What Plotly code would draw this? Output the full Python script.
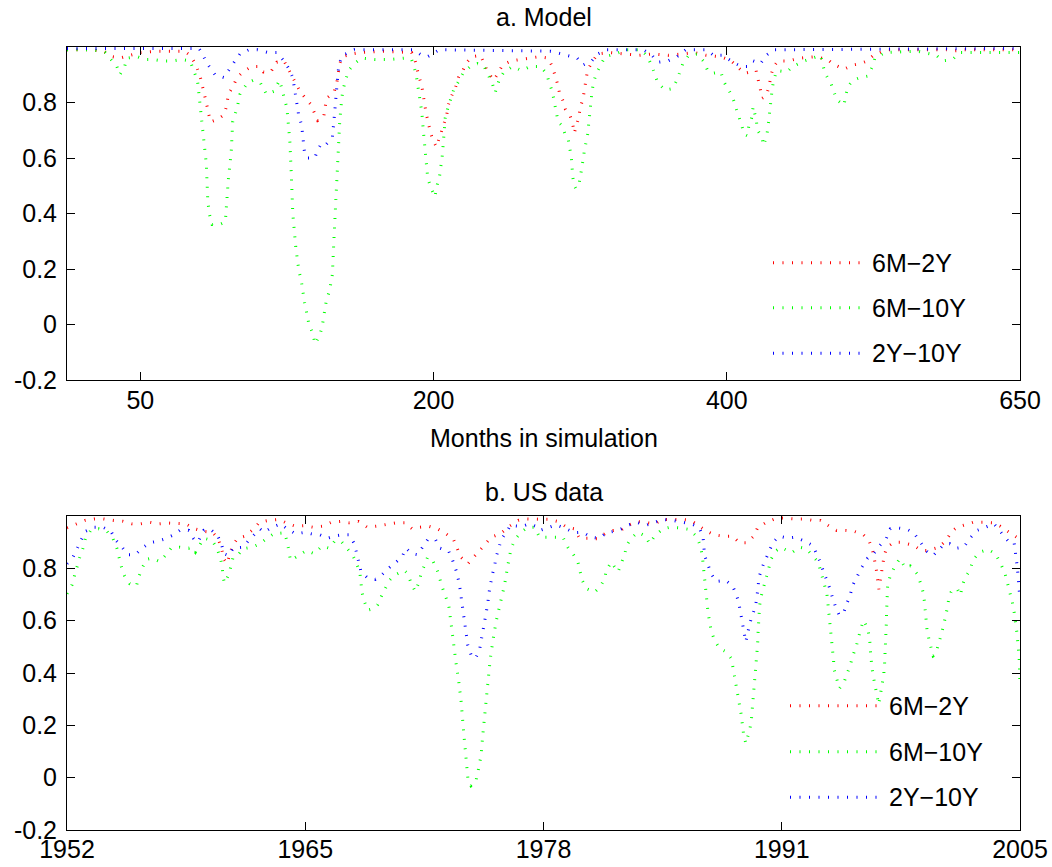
import plotly.graph_objects as go

# ---------------- panel a: model, correlations by month of simulation ----------------
model_red = [
    (0, 0.99), (16, 0.99), (25, 0.985), (31, 0.965), (36, 0.96), (43, 0.97), (50, 0.98),
    (63, 0.985), (80, 0.985), (84, 0.97), (88, 0.935), (91, 0.89), (93, 0.85), (95, 0.80),
    (97, 0.75), (98, 0.73), (103, 0.74), (107, 0.755), (109, 0.79), (110, 0.83), (113, 0.855),
    (116, 0.89), (120, 0.91), (126, 0.93), (131, 0.93), (134, 0.91), (139, 0.91), (143, 0.945),
    (148, 0.95), (152, 0.91), (156, 0.87), (159, 0.84), (162, 0.82), (166, 0.795), (169, 0.76),
    (171, 0.735), (175, 0.745), (176, 0.78), (177, 0.815), (182, 0.835), (184, 0.87),
    (185, 0.905), (186, 0.94), (188, 0.965), (194, 0.975), (200, 0.98), (215, 0.985),
    (235, 0.98), (237, 0.96), (240, 0.895), (242, 0.86), (243, 0.825), (245, 0.76), (248, 0.69),
    (250, 0.66), (252, 0.64), (254, 0.675), (257, 0.72), (259, 0.755), (260, 0.79), (262, 0.82),
    (265, 0.855), (267, 0.89), (270, 0.915), (272, 0.94), (276, 0.965), (282, 0.97), (287, 0.91),
    (291, 0.88), (294, 0.905), (297, 0.935), (303, 0.95), (310, 0.955), (322, 0.965), (328, 0.96),
    (331, 0.93), (333, 0.895), (335, 0.86), (336, 0.83), (338, 0.81), (340, 0.775), (343, 0.755),
    (345, 0.72), (346, 0.69), (349, 0.745), (350, 0.78), (352, 0.815), (353, 0.85), (354, 0.88),
    (355, 0.915), (358, 0.945), (362, 0.975), (370, 0.98), (380, 0.975), (390, 0.97),
    (400, 0.975), (410, 0.97), (420, 0.975), (428, 0.98), (436, 0.97), (446, 0.965), (453, 0.95),
    (457, 0.93), (462, 0.905), (470, 0.915), (472, 0.875), (473, 0.845), (474, 0.815),
    (477, 0.825), (479, 0.86), (480, 0.895), (482, 0.93), (485, 0.95), (492, 0.95), (500, 0.96),
    (510, 0.965), (519, 0.955), (522, 0.94), (530, 0.92), (536, 0.935), (541, 0.94), (546, 0.95),
    (551, 0.975), (560, 0.99), (600, 0.99), (604, 0.985), (612, 0.99), (650, 0.99),
]

model_green = [
    (0, 0.99), (18, 0.99), (26, 0.98), (29, 0.96), (34, 0.93), (36, 0.90), (39, 0.925), (41, 0.96),
    (48, 0.965), (53, 0.955), (59, 0.955), (65, 0.95), (72, 0.95), (78, 0.955), (84, 0.95),
    (86, 0.92), (89, 0.88), (91, 0.78), (93, 0.675), (95, 0.58), (96, 0.45), (97, 0.40),
    (99, 0.36), (104, 0.36), (108, 0.37), (109, 0.45), (110, 0.52), (112, 0.62), (113, 0.73),
    (116, 0.78), (118, 0.83), (123, 0.87), (127, 0.88), (132, 0.87), (136, 0.83), (141, 0.84),
    (145, 0.88), (150, 0.78), (152, 0.66), (153, 0.54), (154, 0.40), (156, 0.28), (158, 0.20),
    (160, 0.15), (162, 0.08), (164, 0.03), (165, 0.0), (168, -0.035), (169, -0.07), (172, -0.045),
    (174, -0.01), (175, 0.025), (177, 0.09), (179, 0.12), (181, 0.18), (182, 0.30), (183, 0.42),
    (184, 0.55), (185, 0.66), (186, 0.73), (187, 0.79), (188, 0.84), (190, 0.88), (192, 0.915),
    (196, 0.94), (201, 0.96), (210, 0.955), (220, 0.955), (230, 0.96), (235, 0.955), (236, 0.94),
    (238, 0.905), (239, 0.87), (240, 0.84), (241, 0.80), (242, 0.765), (243, 0.70), (244, 0.635),
    (245, 0.58), (246, 0.53), (248, 0.495), (251, 0.46), (252, 0.495), (254, 0.53), (256, 0.61),
    (257, 0.68), (258, 0.745), (260, 0.785), (262, 0.82), (264, 0.85), (267, 0.875), (270, 0.905),
    (275, 0.93), (280, 0.94), (284, 0.935), (287, 0.90), (290, 0.87), (292, 0.835), (295, 0.885),
    (298, 0.91), (304, 0.93), (310, 0.915), (316, 0.93), (323, 0.93), (327, 0.905), (329, 0.87),
    (331, 0.84), (333, 0.785), (335, 0.73), (338, 0.715), (340, 0.68), (342, 0.665), (344, 0.60),
    (345, 0.53), (346, 0.50), (347, 0.49), (349, 0.50), (351, 0.56), (352, 0.60), (353, 0.63),
    (355, 0.68), (356, 0.735), (357, 0.78), (358, 0.835), (359, 0.87), (361, 0.905), (364, 0.935),
    (367, 0.965), (374, 0.975), (381, 0.99), (392, 0.99), (396, 0.965), (399, 0.93), (401, 0.90),
    (403, 0.87), (408, 0.845), (413, 0.85), (416, 0.88), (418, 0.91), (420, 0.94), (424, 0.97),
    (430, 0.975), (434, 0.95), (437, 0.915), (440, 0.905), (446, 0.91), (448, 0.875), (451, 0.85),
    (454, 0.82), (456, 0.785), (458, 0.755), (460, 0.72), (462, 0.685), (464, 0.68), (465, 0.715),
    (467, 0.745), (468, 0.785), (470, 0.74), (471, 0.70), (474, 0.675), (475, 0.645), (477, 0.675),
    (478, 0.705), (479, 0.76), (480, 0.81), (481, 0.85), (482, 0.88), (484, 0.915), (491, 0.91),
    (495, 0.93), (503, 0.95), (514, 0.97), (517, 0.905), (521, 0.87), (523, 0.84), (525, 0.81),
    (530, 0.79), (531, 0.825), (533, 0.86), (536, 0.88), (541, 0.89), (546, 0.895), (549, 0.925),
    (551, 0.96), (558, 0.98), (580, 0.985), (593, 0.97), (597, 0.95), (604, 0.955), (609, 0.98),
    (650, 0.98),
]

model_blue = [
    (0, 0.995), (90, 0.995), (92, 0.98), (95, 0.945), (101, 0.90), (107, 0.89), (114, 0.945),
    (118, 0.975), (124, 0.99), (130, 0.99), (137, 0.98), (143, 0.98), (148, 0.95), (151, 0.925),
    (154, 0.89), (155, 0.855), (156, 0.82), (157, 0.785), (158, 0.755), (160, 0.72), (161, 0.67),
    (162, 0.62), (164, 0.60), (169, 0.60), (171, 0.63), (174, 0.655), (177, 0.65), (181, 0.675),
    (182, 0.73), (183, 0.80), (184, 0.86), (185, 0.915), (186, 0.945), (188, 0.97), (196, 0.99),
    (236, 0.99), (242, 0.97), (246, 0.965), (254, 0.99), (330, 0.985), (348, 0.96), (352, 0.935),
    (358, 0.95), (362, 0.975), (368, 0.99), (393, 0.99), (399, 0.97), (403, 0.945), (410, 0.95),
    (416, 0.965), (422, 0.99), (436, 0.99), (441, 0.97), (447, 0.97), (456, 0.94), (460, 0.93),
    (464, 0.93), (468, 0.95), (473, 0.94), (477, 0.97), (482, 0.99), (650, 0.995),
]

# ---------------- panel b: US data, correlations by year ----------------
us_red = [
    (1952.0, 0.955), (1952.5, 0.97), (1953.0, 0.983), (1953.5, 0.989), (1954.0, 0.989),
    (1954.6, 0.983), (1955.1, 0.98), (1955.6, 0.97), (1956.1, 0.97), (1956.6, 0.976),
    (1957.1, 0.97), (1957.6, 0.973), (1958.2, 0.97), (1958.6, 0.97), (1959.1, 0.951),
    (1959.6, 0.941), (1960.1, 0.938), (1960.4, 0.913), (1960.6, 0.875), (1960.7, 0.837),
    (1960.9, 0.818), (1961.2, 0.887), (1961.5, 0.915), (1961.9, 0.923), (1962.4, 0.951),
    (1962.7, 0.976), (1963.2, 0.983), (1963.8, 0.987), (1964.3, 0.97), (1964.7, 0.961),
    (1965.2, 0.963), (1965.7, 0.957), (1966.2, 0.961), (1966.7, 0.976), (1967.2, 0.979),
    (1967.7, 0.974), (1968.2, 0.979), (1968.7, 0.957), (1969.2, 0.961), (1969.7, 0.966),
    (1970.3, 0.974), (1970.8, 0.974), (1971.2, 0.951), (1971.6, 0.957), (1972.1, 0.961),
    (1972.6, 0.951), (1973.0, 0.936), (1973.5, 0.910), (1973.9, 0.843), (1974.3, 0.818),
    (1974.6, 0.843), (1975.0, 0.872), (1975.6, 0.919), (1976.1, 0.932), (1976.6, 0.961),
    (1977.1, 0.983), (1977.6, 0.989), (1978.1, 0.987), (1978.8, 0.987), (1979.3, 0.979),
    (1979.8, 0.957), (1980.2, 0.951), (1980.5, 0.915), (1981.0, 0.915), (1981.5, 0.913),
    (1982.0, 0.936), (1982.4, 0.945), (1982.8, 0.945), (1983.2, 0.964), (1983.7, 0.979),
    (1984.2, 0.974), (1984.7, 0.970), (1985.1, 0.987), (1985.7, 0.987), (1986.2, 0.987),
    (1986.7, 0.983), (1987.2, 0.961), (1987.6, 0.941), (1988.0, 0.928), (1988.5, 0.923),
    (1989.0, 0.923), (1989.4, 0.898), (1989.8, 0.898), (1990.2, 0.923), (1990.4, 0.954),
    (1990.9, 0.976), (1991.3, 0.987), (1991.8, 0.992), (1992.4, 0.989), (1993.0, 0.989),
    (1993.5, 0.983), (1993.9, 0.983), (1994.4, 0.961), (1994.8, 0.945), (1995.3, 0.945),
    (1995.8, 0.941), (1996.3, 0.928), (1996.6, 0.907), (1996.8, 0.87), (1997.0, 0.80),
    (1997.15, 0.72), (1997.3, 0.78), (1997.45, 0.85), (1997.6, 0.881), (1998.0, 0.900),
    (1998.4, 0.900), (1998.7, 0.894), (1999.1, 0.887), (1999.5, 0.868), (1999.8, 0.868),
    (2000.2, 0.875), (2000.5, 0.881), (2000.9, 0.907), (2001.2, 0.941), (2001.5, 0.957),
    (2002.0, 0.966), (2002.4, 0.976), (2003.0, 0.976), (2003.5, 0.974), (2003.9, 0.961),
    (2004.3, 0.941), (2004.8, 0.919), (2005.0, 0.91),
]

us_green = [
    (1952.0, 0.703), (1952.28, 0.737), (1952.41, 0.770), (1952.56, 0.807), (1952.71, 0.842),
    (1952.89, 0.877), (1953.02, 0.913), (1953.34, 0.947), (1953.76, 0.951), (1954.23, 0.941),
    (1954.56, 0.913), (1954.78, 0.875), (1954.88, 0.843), (1955.02, 0.807), (1955.19, 0.773),
    (1955.49, 0.741), (1955.86, 0.732), (1955.99, 0.767), (1956.18, 0.801), (1956.42, 0.834),
    (1956.73, 0.839), (1957.16, 0.826), (1957.47, 0.849), (1957.79, 0.877), (1958.27, 0.881),
    (1958.77, 0.877), (1958.96, 0.881), (1959.14, 0.862), (1959.39, 0.89), (1959.61, 0.915),
    (1960.07, 0.907), (1960.35, 0.875), (1960.54, 0.837), (1960.63, 0.805), (1960.68, 0.767),
    (1960.76, 0.744), (1961.0, 0.776), (1961.24, 0.843), (1961.56, 0.856), (1961.8, 0.875),
    (1962.3, 0.881), (1962.73, 0.894), (1963.13, 0.915), (1963.5, 0.932), (1964.1, 0.936),
    (1964.25, 0.90), (1964.43, 0.83), (1964.9, 0.849), (1965.32, 0.868), (1965.75, 0.856),
    (1966.18, 0.885), (1966.59, 0.877), (1966.92, 0.907), (1967.29, 0.900), (1967.61, 0.872),
    (1967.9, 0.849), (1968.11, 0.818), (1968.29, 0.783), (1968.35, 0.745), (1968.4, 0.709),
    (1968.53, 0.674), (1968.72, 0.640), (1969.04, 0.646), (1969.28, 0.661), (1969.46, 0.690),
    (1969.7, 0.722), (1969.93, 0.754), (1970.2, 0.773), (1970.48, 0.783), (1970.76, 0.792),
    (1970.95, 0.78), (1971.13, 0.745), (1971.37, 0.712), (1971.56, 0.745), (1971.69, 0.779),
    (1971.87, 0.811), (1972.06, 0.843), (1972.34, 0.830), (1972.6, 0.79), (1972.9, 0.722),
    (1973.08, 0.690), (1973.23, 0.659), (1973.36, 0.589), (1973.49, 0.512), (1973.64, 0.436),
    (1973.79, 0.366), (1973.92, 0.290), (1974.05, 0.182), (1974.16, 0.109), (1974.23, 0.036),
    (1974.29, 0.0), (1974.47, -0.031), (1974.71, -0.022), (1974.84, 0.017), (1974.94, 0.051),
    (1975.03, 0.086), (1975.12, 0.160), (1975.22, 0.233), (1975.31, 0.303), (1975.4, 0.366),
    (1975.53, 0.449), (1975.68, 0.521), (1975.86, 0.595), (1976.09, 0.665), (1976.33, 0.735),
    (1976.51, 0.809), (1976.7, 0.877), (1976.94, 0.913), (1977.26, 0.938), (1977.63, 0.957),
    (1978.0, 0.957), (1978.28, 0.919), (1978.69, 0.919), (1979.11, 0.919), (1979.58, 0.919),
    (1979.85, 0.881), (1980.13, 0.856), (1980.41, 0.826), (1980.54, 0.792), (1980.65, 0.754),
    (1980.91, 0.722), (1981.34, 0.709), (1981.65, 0.729), (1981.9, 0.760), (1981.99, 0.792),
    (1982.27, 0.824), (1982.64, 0.786), (1982.82, 0.818), (1983.01, 0.852), (1983.14, 0.890),
    (1983.38, 0.915), (1983.75, 0.938), (1984.18, 0.923), (1984.4, 0.894), (1984.68, 0.923),
    (1985.14, 0.951), (1985.55, 0.957), (1986.11, 0.954), (1986.59, 0.949), (1987.0, 0.923),
    (1987.22, 0.887), (1987.33, 0.849), (1987.39, 0.811), (1987.43, 0.776), (1987.46, 0.741),
    (1987.52, 0.703), (1987.59, 0.665), (1987.65, 0.631), (1987.74, 0.595), (1987.83, 0.559),
    (1988.02, 0.525), (1988.3, 0.493), (1988.67, 0.481), (1988.95, 0.455), (1989.04, 0.420),
    (1989.13, 0.385), (1989.23, 0.347), (1989.32, 0.315), (1989.41, 0.277), (1989.5, 0.239),
    (1989.56, 0.203), (1989.63, 0.165), (1989.75, 0.131), (1989.82, 0.150), (1989.97, 0.182),
    (1990.06, 0.220), (1990.11, 0.258), (1990.15, 0.292), (1990.19, 0.328), (1990.25, 0.366),
    (1990.3, 0.404), (1990.34, 0.436), (1990.38, 0.474), (1990.41, 0.512), (1990.43, 0.551),
    (1990.46, 0.589), (1990.49, 0.623), (1990.52, 0.659), (1990.62, 0.697), (1990.75, 0.732),
    (1990.9, 0.767), (1991.04, 0.801), (1991.17, 0.837), (1991.45, 0.868), (1991.7, 0.88),
    (1992.0, 0.87), (1992.31, 0.860), (1992.73, 0.881), (1993.11, 0.875), (1993.42, 0.852),
    (1993.7, 0.830), (1993.85, 0.805), (1993.98, 0.773), (1994.11, 0.737), (1994.26, 0.703),
    (1994.31, 0.671), (1994.37, 0.633), (1994.44, 0.595), (1994.48, 0.557), (1994.54, 0.519),
    (1994.59, 0.483), (1994.63, 0.449), (1994.67, 0.411), (1994.82, 0.373), (1994.96, 0.341),
    (1995.22, 0.366), (1995.37, 0.394), (1995.56, 0.430), (1995.71, 0.468), (1995.89, 0.500),
    (1996.12, 0.563), (1996.3, 0.601), (1996.53, 0.570), (1996.64, 0.531), (1996.67, 0.493),
    (1996.71, 0.455), (1996.77, 0.417), (1996.86, 0.381), (1996.95, 0.347), (1997.05, 0.315),
    (1997.14, 0.280), (1997.23, 0.315), (1997.33, 0.353), (1997.42, 0.392), (1997.47, 0.436),
    (1997.51, 0.481), (1997.53, 0.519), (1997.55, 0.557), (1997.57, 0.595), (1997.58, 0.633),
    (1997.6, 0.697), (1997.64, 0.735), (1997.79, 0.773), (1998.07, 0.811), (1998.31, 0.837),
    (1998.63, 0.801), (1998.9, 0.809), (1999.28, 0.779), (1999.46, 0.745), (1999.61, 0.709),
    (1999.69, 0.671), (1999.74, 0.633), (1999.8, 0.601), (1999.83, 0.563), (1999.93, 0.531),
    (2000.06, 0.500), (2000.17, 0.465), (2000.3, 0.470), (2000.43, 0.506), (2000.58, 0.538),
    (2000.73, 0.576), (2000.86, 0.614), (2000.95, 0.646), (2001.04, 0.684), (2001.17, 0.709),
    (2001.36, 0.722), (2001.51, 0.722), (2001.69, 0.697), (2001.79, 0.735), (2001.97, 0.767),
    (2002.21, 0.792), (2002.4, 0.834), (2002.77, 0.862), (2003.22, 0.872), (2003.64, 0.856),
    (2003.92, 0.818), (2004.14, 0.786), (2004.29, 0.748), (2004.44, 0.709), (2004.57, 0.671),
    (2004.67, 0.633), (2004.76, 0.595), (2004.85, 0.544), (2004.89, 0.500), (2004.95, 0.468),
    (2004.98, 0.392), (2005.0, 0.36),
]

us_blue = [
    (1952.0, 0.818), (1952.33, 0.843), (1952.56, 0.875), (1952.78, 0.910), (1953.02, 0.941),
    (1953.52, 0.957), (1954.0, 0.957), (1954.45, 0.941), (1954.69, 0.910), (1955.06, 0.881),
    (1955.38, 0.852), (1955.8, 0.852), (1956.18, 0.877), (1956.6, 0.898), (1957.01, 0.903),
    (1957.47, 0.913), (1957.94, 0.928), (1958.31, 0.947), (1958.77, 0.945), (1959.05, 0.913),
    (1959.27, 0.900), (1959.61, 0.945), (1959.94, 0.951), (1960.35, 0.928), (1960.59, 0.894),
    (1960.72, 0.856), (1961.0, 0.849), (1961.24, 0.877), (1961.8, 0.881), (1962.06, 0.903),
    (1962.39, 0.926), (1962.73, 0.951), (1962.95, 0.938), (1963.41, 0.957), (1963.88, 0.970),
    (1964.25, 0.951), (1964.71, 0.932), (1965.27, 0.938), (1965.57, 0.932), (1966.07, 0.928),
    (1966.49, 0.915), (1966.86, 0.923), (1967.29, 0.928), (1967.7, 0.928), (1967.98, 0.894),
    (1968.22, 0.824), (1968.35, 0.788), (1968.72, 0.763), (1969.15, 0.758), (1969.52, 0.776),
    (1969.89, 0.801), (1970.3, 0.824), (1970.63, 0.843), (1970.85, 0.877), (1971.19, 0.856),
    (1971.5, 0.852), (1971.82, 0.885), (1972.06, 0.910), (1972.49, 0.910), (1972.75, 0.877),
    (1973.23, 0.865), (1973.45, 0.830), (1973.64, 0.792), (1973.82, 0.741), (1973.92, 0.690),
    (1974.01, 0.646), (1974.1, 0.582), (1974.19, 0.544), (1974.29, 0.506), (1974.47, 0.470),
    (1974.71, 0.455), (1974.94, 0.487), (1975.03, 0.521), (1975.12, 0.557), (1975.22, 0.593),
    (1975.31, 0.627), (1975.4, 0.665), (1975.46, 0.703), (1975.53, 0.737), (1975.64, 0.773),
    (1975.77, 0.805), (1975.86, 0.843), (1976.01, 0.875), (1976.14, 0.910), (1976.33, 0.928),
    (1976.51, 0.945), (1976.64, 0.964), (1977.3, 0.96), (1977.7, 0.97), (1978.1, 0.96),
    (1978.3, 0.945), (1978.8, 0.957), (1979.2, 0.966), (1979.67, 0.954), (1980.23, 0.936),
    (1980.69, 0.938), (1981.15, 0.919), (1981.62, 0.915), (1981.99, 0.936), (1982.4, 0.941),
    (1982.82, 0.951), (1983.25, 0.966), (1983.7, 0.976), (1984.18, 0.964), (1984.68, 0.976),
    (1985.14, 0.987), (1985.7, 0.983), (1986.22, 0.976), (1986.72, 0.970), (1987.15, 0.957),
    (1987.37, 0.923), (1987.46, 0.849), (1987.65, 0.814), (1987.83, 0.779), (1988.11, 0.750),
    (1988.63, 0.754), (1989.0, 0.735), (1989.23, 0.699), (1989.37, 0.665), (1989.45, 0.631),
    (1989.56, 0.589), (1989.63, 0.557), (1989.75, 0.519), (1989.97, 0.589), (1990.15, 0.623),
    (1990.3, 0.659), (1990.38, 0.697), (1990.43, 0.732), (1990.49, 0.767), (1990.67, 0.805),
    (1990.86, 0.834), (1991.04, 0.868), (1991.27, 0.900), (1991.6, 0.923), (1992.07, 0.915),
    (1992.49, 0.919), (1993.05, 0.903), (1993.48, 0.887), (1993.7, 0.852), (1993.89, 0.824),
    (1994.07, 0.788), (1994.26, 0.754), (1994.44, 0.720), (1994.59, 0.684), (1994.78, 0.646),
    (1994.96, 0.620), (1995.19, 0.631), (1995.37, 0.665), (1995.56, 0.699), (1995.71, 0.737),
    (1995.97, 0.770), (1996.21, 0.805), (1996.53, 0.839), (1996.82, 0.852), (1997.2, 0.887),
    (1997.57, 0.915), (1997.79, 0.951), (1998.25, 0.954), (1998.72, 0.949), (1999.09, 0.936),
    (1999.46, 0.900), (1999.83, 0.865), (2000.17, 0.849), (2000.43, 0.868), (2000.76, 0.890),
    (2001.1, 0.894), (2001.47, 0.877), (2001.88, 0.881), (2002.21, 0.915), (2002.62, 0.945),
    (2003.09, 0.957), (2003.55, 0.970), (2003.96, 0.936), (2004.39, 0.900), (2004.67, 0.90),
    (2004.85, 0.805), (2005.0, 0.68),
]

series_names = ["6M\u22122Y", "6M\u221210Y", "2Y\u221210Y"]
series_colors = ["#ff0000", "#00ff00", "#0000ff"]

model_ticks = [50, 250, 450, 650]
model_ticktext = ["50", "200", "400", "650"]
year_ticks = [1952, 1965.25, 1978.5, 1991.75, 2005]
year_ticktext = ["1952", "1965", "1978", "1991", "2005"]
y_ticks = [-0.2, 0, 0.2, 0.4, 0.6, 0.8]
y_ticktext = ["-0.2", "0", "0.2", "0.4", "0.6", "0.8"]

FONT = "Liberation Sans, Arial, Helvetica, sans-serif"
FS = 25
DOTS = "1px,8.5px"
LW = 3

fig = go.Figure()

for data, color, name in zip([model_red, model_green, model_blue], series_colors, series_names):
    xs, ys = zip(*data)
    fig.add_trace(go.Scatter(x=list(xs), y=list(ys), mode="lines", name=name,
                             line=dict(color=color, width=LW, dash=DOTS),
                             xaxis="x", yaxis="y", showlegend=False))

for data, color, name in zip([us_red, us_green, us_blue], series_colors, series_names):
    xs, ys = zip(*data)
    fig.add_trace(go.Scatter(x=list(xs), y=list(ys), mode="lines", name=name,
                             line=dict(color=color, width=LW, dash=DOTS),
                             xaxis="x2", yaxis="y2", showlegend=False))

axis_common = dict(showline=True, linecolor="black", linewidth=1, mirror="ticks",
                   ticks="inside", ticklen=8, tickwidth=1, tickcolor="black",
                   showgrid=False, zeroline=False, automargin=False,
                   tickfont=dict(family=FONT, size=FS, color="black"))

W, H = 1052, 867
ML, MR, MT, MB = 67, 32, 47, 37
plot_h = H - MT - MB
TOP_BOTTOM = 380      # pixel row of the lower edge of panel a
BOT_TOP = 516         # pixel row of the upper edge of panel b
top_dom = [(H - MB - TOP_BOTTOM) / plot_h, 1]
bot_dom = [0, (H - MB - BOT_TOP) / plot_h]

fig.update_layout(
    width=W, height=H,
    margin=dict(l=ML, r=MR, t=MT, b=MB, autoexpand=False),
    paper_bgcolor="white", plot_bgcolor="white",
    font=dict(family=FONT, size=FS, color="black"),
    xaxis=dict(domain=[0, 1], range=[0, 650], tickvals=model_ticks, ticktext=model_ticktext,
               anchor="y", ticklabelstandoff=-2, **axis_common),
    yaxis=dict(domain=top_dom, range=[-0.2, 1.0], tickvals=y_ticks, ticktext=y_ticktext,
               anchor="x", ticklabelstandoff=4, **axis_common),
    xaxis2=dict(domain=[0, 1], range=[1952, 2005], tickvals=year_ticks, ticktext=year_ticktext,
                anchor="y2", ticklabelstandoff=-3, **axis_common),
    yaxis2=dict(domain=bot_dom, range=[-0.2, 1.0], tickvals=y_ticks, ticktext=y_ticktext,
                anchor="x2", ticklabelstandoff=4, **axis_common),
)


def py(px):
    """Convert a pixel row into paper coordinates."""
    return (H - MB - px) / plot_h


def pxx(px):
    return (px - ML) / (W - ML - MR)


annotations = [
    dict(text="a. Model", x=0.5, y=py(17)),
    dict(text="Months in simulation", x=0.5, y=py(438)),
    dict(text="b. US data", x=0.5, y=py(492)),
]
for a in annotations:
    fig.add_annotation(xref="paper", yref="paper", showarrow=False, xanchor="center",
                       yanchor="middle", font=dict(family=FONT, size=FS, color="black"), **a)

# legends drawn as dotted sample lines with labels
legend_specs = [
    (773, 860, 870, [262.7, 307.7, 353.3]),
    (790, 878, 887, [705.7, 751.7, 797.3]),
]
for x0, x1, xt, rows in legend_specs:
    for row, color, name in zip(rows, series_colors, series_names):
        fig.add_shape(type="line", xref="paper", yref="paper",
                      x0=pxx(x0), x1=pxx(x1), y0=py(row), y1=py(row),
                      line=dict(color=color, width=LW, dash=DOTS))
        fig.add_annotation(xref="paper", yref="paper", x=pxx(xt), y=py(row), text=name,
                           showarrow=False, xanchor="left", yanchor="middle",
                           font=dict(family=FONT, size=FS, color="black"))

fig.write_html("out.html")
